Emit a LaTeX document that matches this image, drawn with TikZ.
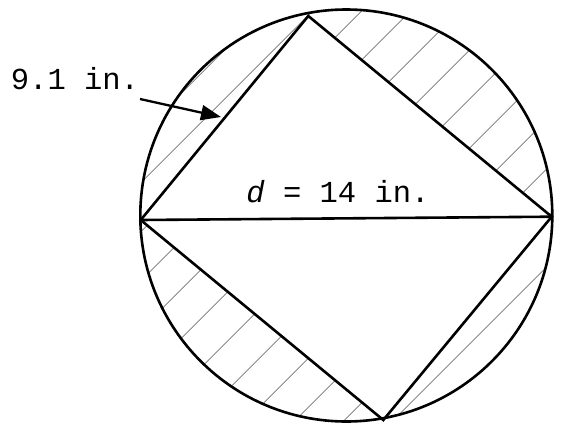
\documentclass[tikz,border=0pt]{standalone}
\usepackage{fontspec}
\setmonofont{Liberation Mono}
\usetikzlibrary{arrows.meta}
\tikzset{
  thick line/.style={line width=2.6pt, line join=miter},
  hatchline/.style={line width=0.7pt, draw=black!55},
  lbl/.style={font=\ttfamily\fontsize{30.5}{35}\selectfont, inner sep=0pt},
}
\begin{document}
\begin{tikzpicture}[x=1pt,y=-1pt]
\useasboundingbox (0,0) rectangle (569,434);
\coordinate (O) at (346.3,215.5);
\coordinate (T) at (308.3,16);
\coordinate (L) at (140.7,220);
\coordinate (R) at (551.7,216.7);
\coordinate (B) at (383.3,420);
% hatching
\begin{scope}
  \clip (O) circle[radius=206];
  \foreach \k in {-4,...,10} {
    \pgfmathsetmacro{\c}{421.7+49*\k}
    \draw[hatchline] (\c+50,-50) -- (\c-550,550);
  }
  \fill[white] (T) -- (R) -- (B) -- (L) -- cycle;
\end{scope}
% figure
\draw[thick line] (O) circle[radius=206];
\draw[thick line] (L) -- (T) -- (R) -- (B) -- cycle;
\draw[thick line] (L) -- (R);
% labels
\node[lbl] (s) at (75,79) {9.1 in.};
\coordinate (tip) at (221,117);
\draw[line width=2.3pt, -{Triangle[length=20pt,width=15pt]}] (140,99) -- (tip);
\node[lbl] (d) at (338,192) {\textit{d} = 14 in.};
\end{tikzpicture}
\end{document}
